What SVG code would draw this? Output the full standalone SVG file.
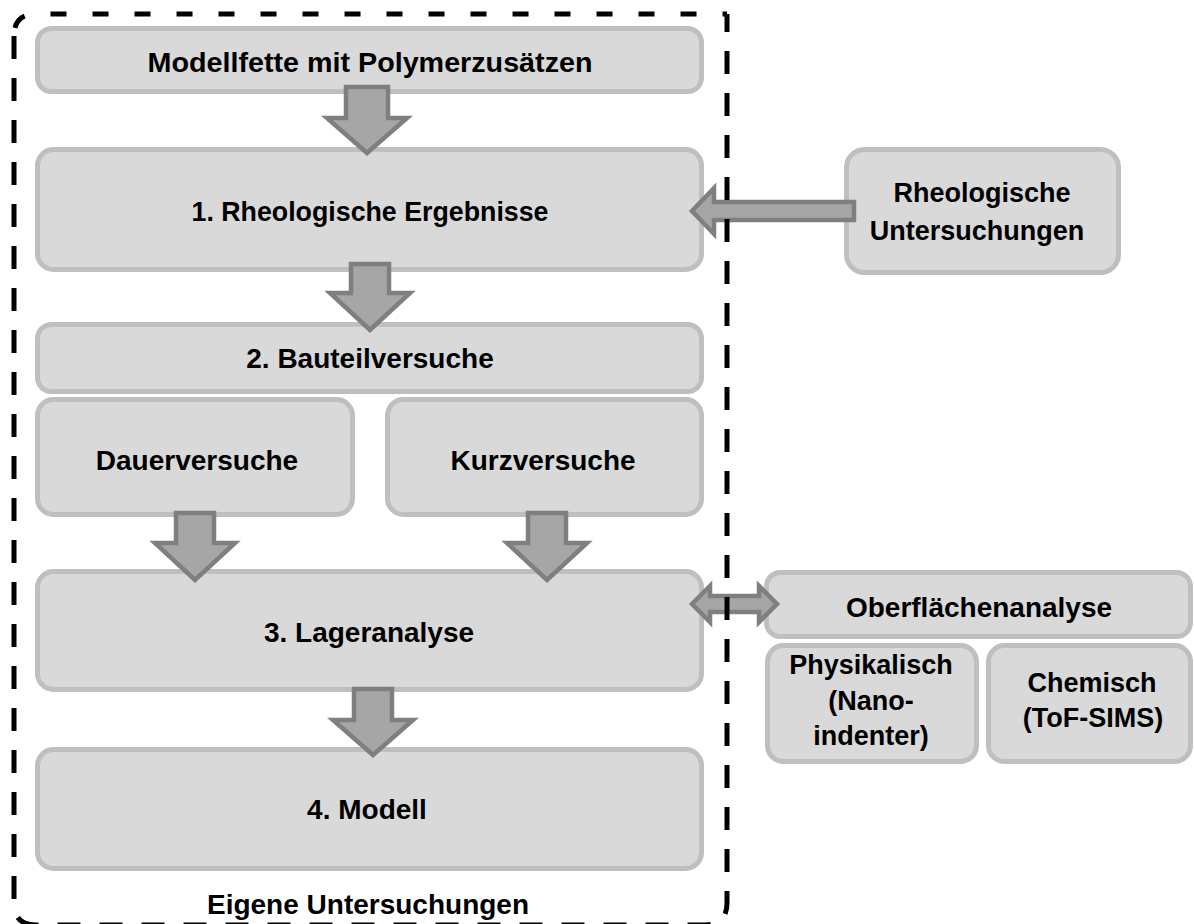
<svg xmlns="http://www.w3.org/2000/svg" width="1194" height="924" viewBox="0 0 1194 924">
<style>
.box{fill:#d9d9d9;stroke:#bfbfbf;stroke-width:5}
.arr{fill:#a6a6a6;stroke:#7f7f7f;stroke-width:4.5;stroke-linejoin:miter}
.t{font-family:"Liberation Sans",Arial,sans-serif;font-weight:bold;font-size:28px;fill:#000;text-anchor:middle}
.s{font-size:27px}
.frame{fill:none;stroke:#000;stroke-width:5}
</style>
<rect width="1194" height="924" fill="#fff"/>
<g id="n_modellfette">
<rect class="box" x="37.5" y="28.5" width="664" height="63" rx="14"/>
<text class="t" x="370" y="72" textLength="445" lengthAdjust="spacingAndGlyphs">Modellfette mit Polymerzusätzen</text>
</g>
<g id="n_rheo_ergebnisse">
<rect class="box" x="37.5" y="149.5" width="664" height="120" rx="16"/>
<text class="t" x="370" y="221" textLength="357" lengthAdjust="spacingAndGlyphs">1. Rheologische Ergebnisse</text>
</g>
<g id="n_bauteil">
<rect class="box" x="37.5" y="324.5" width="664" height="67" rx="14"/>
<text class="t" x="370" y="368">2. Bauteilversuche</text>
</g>
<g id="n_dauer">
<rect class="box" x="37.5" y="399.5" width="315" height="115" rx="16"/>
<text class="t" x="197" y="470">Dauerversuche</text>
</g>
<g id="n_kurz">
<rect class="box" x="387.5" y="399.5" width="314" height="115" rx="16"/>
<text class="t" x="543" y="470">Kurzversuche</text>
</g>
<g id="n_lager">
<rect class="box" x="37.5" y="571.5" width="664" height="118" rx="16"/>
<text class="t" x="369" y="642">3. Lageranalyse</text>
</g>
<g id="n_modell">
<rect class="box" x="37.5" y="749.5" width="664" height="119" rx="16"/>
<text class="t" x="367" y="819">4. Modell</text>
</g>
<g id="n_eigene">
<text class="t" x="368" y="914">Eigene Untersuchungen</text>
</g>
<g id="n_rheo_unters">
<rect class="box" x="846.5" y="149.5" width="272" height="123" rx="18"/>
<text class="t s" x="982" y="202">Rheologische</text>
<text class="t s" x="977" y="240">Untersuchungen</text>
</g>
<g id="n_oberflaeche">
<rect class="box" x="766.5" y="572.5" width="424" height="64" rx="14"/>
<text class="t" x="979" y="617">Oberflächenanalyse</text>
</g>
<g id="n_physikalisch">
<rect class="box" x="767.5" y="645.5" width="209" height="116" rx="16"/>
<text class="t s" x="871" y="674">Physikalisch</text>
<text class="t s" x="871" y="710">(Nano-</text>
<text class="t s" x="871" y="745">indenter)</text>
</g>
<g id="n_chemisch">
<rect class="box" x="988.5" y="645.5" width="202" height="116" rx="16"/>
<text class="t s" x="1092" y="692">Chemisch</text>
<text class="t s" x="1093" y="727">(ToF-SIMS)</text>
</g>
<g id="connectors">
<polygon class="arr" points="346,87 388,87 388,118 407,118 367,153 327,118 346,118"/>
<polygon class="arr" points="351,264 389,264 389,293 410,293 370,330 330,293 351,293"/>
<polygon class="arr" points="176,513 214,513 214,543 235,543 195,580 155,543 176,543"/>
<polygon class="arr" points="528,513 566,513 566,543 587,543 547,580 507,543 528,543"/>
<polygon class="arr" points="354,689 392,689 392,720 413,720 373,755 333,720 354,720"/>
<polygon class="arr" points="692,211 714,188 714,202 854,202 854,220 714,220 714,234"/>
<polygon class="arr" points="692,604 710,586 710,596 759,596 759,586 777,604 759,622 759,612 710,612 710,622"/>
</g>
<g id="frame">
<path class="frame" d="M14,36 Q14,14 36,14 L727,14" stroke-dasharray="16 26" stroke-dashoffset="-8"/>
<path class="frame" d="M14,36 L14,903 Q14,925 36,925 L705,925 Q727,925 727,903 L727,14" stroke-dasharray="23 19"/>
</g>
</svg>
